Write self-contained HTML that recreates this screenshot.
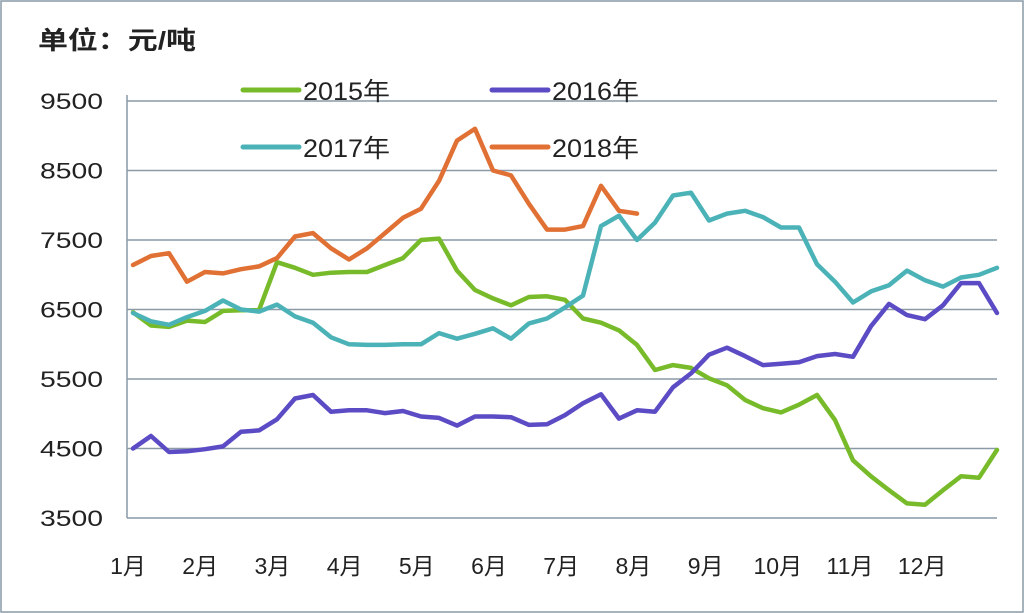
<!DOCTYPE html>
<html><head><meta charset="utf-8"><style>
html,body{margin:0;padding:0;background:#fff;}
svg{display:block;font-family:"Liberation Sans","Noto Sans CJK SC",sans-serif;}
</style></head><body>
<svg id="chart" width="1024" height="613" viewBox="0 0 1024 613" xmlns="http://www.w3.org/2000/svg">
<rect x="1" y="1" width="1022" height="611" fill="#fff" stroke="#8a9aa6" stroke-width="1.5"/>
<text x="38" y="49" font-size="25" font-weight="bold" fill="#222" textLength="158" lengthAdjust="spacingAndGlyphs">单位：元/吨</text>
<g id="grid"></g>
<g id="yticks"></g>
<g id="xticks"></g>
<g id="series"></g>
<g id="legend"></g>
</svg>
<script>
const months = ["1月","2月","3月","4月","5月","6月","7月","8月","9月","10月","11月","12月"];
const yTicks = [3500,4500,5500,6500,7500,8500,9500];
const step = 0.25; // months between samples
const s2015 = [6460,6270,6250,6340,6320,6480,6490,6490,7180,7100,7000,7030,7040,7040,7140,7240,7500,7520,7060,6780,6660,6560,6680,6690,6640,6370,6310,6200,5990,5630,5700,5660,5510,5410,5200,5080,5020,5130,5270,4910,4330,4100,3900,3710,3690,3900,4100,4080,4480];
const s2016 = [4500,4680,4450,4460,4490,4530,4740,4760,4920,5220,5270,5030,5050,5050,5010,5040,4960,4940,4830,4960,4960,4950,4840,4850,4980,5150,5280,4930,5050,5030,5380,5580,5850,5950,5830,5700,5720,5740,5830,5860,5820,6260,6580,6420,6360,6560,6880,6880,6450];
const s2017 = [6450,6330,6280,6390,6480,6630,6500,6470,6570,6400,6310,6100,6000,5990,5990,6000,6000,6160,6080,6150,6230,6080,6300,6370,6530,6700,7700,7850,7500,7750,8140,8180,7780,7880,7920,7830,7680,7680,7150,6900,6600,6760,6850,7060,6920,6830,6960,7000,7100];
const s2018 = [7140,7270,7310,6900,7040,7020,7080,7120,7240,7550,7600,7380,7220,7380,7600,7820,7950,8350,8930,9100,8500,8430,8020,7650,7650,7700,8280,7920,7880];
const seriesNames = ["2015年","2016年","2017年","2018年"];
const seriesColors = ["#78bb2a","#5b4bc4","#4bb3b7","#e07033"];
const seriesData = [s2015,s2016,s2017,s2018];

const NS="http://www.w3.org/2000/svg";
const X0=127,X1=997,Y0=518,Y1=101;
const yScale=v=>Y0-(v-3500)/(9500-3500)*(Y0-Y1);
const xScale=m=>133+m*72;
function mk(tag,attrs,parent){const e=document.createElementNS(NS,tag);for(const k in attrs)e.setAttribute(k,attrs[k]);parent.appendChild(e);return e;}
const grid=document.getElementById('grid'),yt=document.getElementById('yticks'),xt=document.getElementById('xticks'),ser=document.getElementById('series'),leg=document.getElementById('legend');
yTicks.forEach(v=>{
  const y=yScale(v);
  if(v>3500){const l=mk('line',{x1:X0,x2:X1,y1:y,y2:y,stroke:'#8a9aa6','stroke-width':1.5},grid);
  
  }
  const t=mk('text',{x:40,y:y+8,'font-size':22,fill:'#222',textLength:63,lengthAdjust:'spacingAndGlyphs'},yt);
  t.textContent=v;
  
  
});
const ax=mk('line',{x1:X0,x2:X0,y1:95,y2:Y0,stroke:'#8a9aa6','stroke-width':1.5},grid);


const bx=mk('line',{x1:X0,x2:X1,y1:Y0,y2:Y0,stroke:'#8a9aa6','stroke-width':1.5},grid);


months.forEach((m,i)=>{
  const t=mk('text',{x:128+i*72.2,y:574,'font-size':23,'text-anchor':'middle',fill:'#222'},xt);
  t.textContent=m;
  
  
});
seriesData.forEach((d,si)=>{
  const pts=d.map((v,i)=>xScale(i*step).toFixed(1)+','+yScale(v).toFixed(1)).join(' ');
  const p=mk('polyline',{points:pts,fill:'none',stroke:seriesColors[si],'stroke-width':4.5,'stroke-linejoin':'round','stroke-linecap':'round'},ser);
  
  
});
const legPos=[[243,90],[492,90],[243,147],[492,147]];
seriesNames.forEach((n,i)=>{
  const [lx,ly]=legPos[i];
  const g=mk('g',{},leg);
  
  
  mk('line',{x1:lx,x2:lx+56,y1:ly,y2:ly,stroke:seriesColors[i],'stroke-width':5,'stroke-linecap':'round'},g);
  const t=mk('text',{x:lx+60,y:ly+10,'font-size':25,fill:'#222',textLength:87,lengthAdjust:'spacingAndGlyphs'},g);
  t.textContent=n;
});
</script>
</body></html>
